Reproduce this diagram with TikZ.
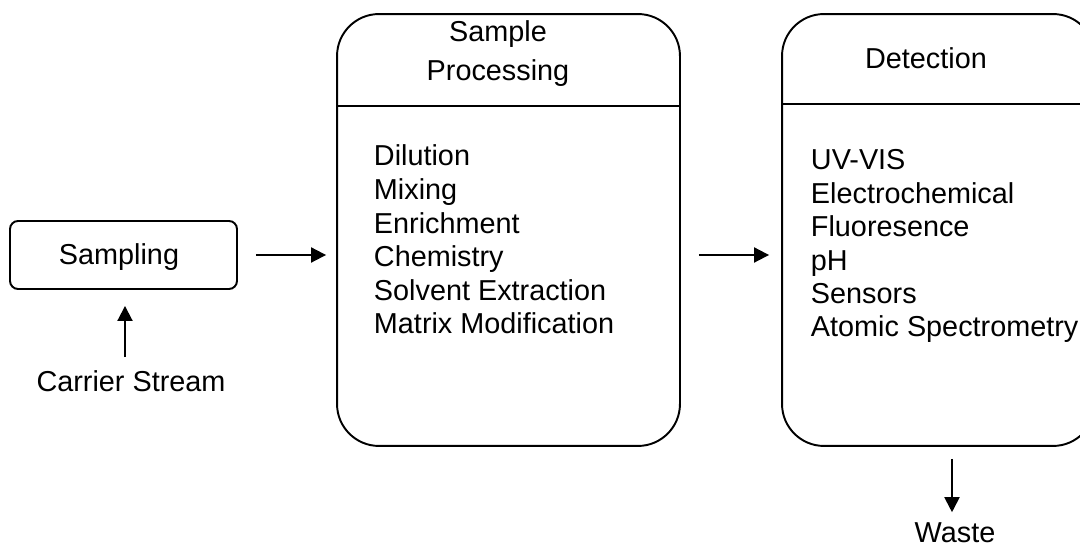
\documentclass[tikz,border=0pt]{standalone}
\usepackage{fontspec}
\setmainfont{Liberation Sans}
\usetikzlibrary{arrows.meta}

\begin{document}
\begin{tikzpicture}[
  x=0.02cm,y=-0.02cm,
  >={Triangle[length=0.3cm,width=0.3cm]},
  every node/.style={font=\fontsize{16.4pt}{18.7pt}\selectfont},
  smallbox/.style={draw,rounded corners=0.16cm,minimum width=4.54cm,minimum height=1.36cm,inner sep=0pt},
  stage/.style={draw,rounded corners=0.84cm,minimum height=8.64cm,inner sep=0pt},
  item/.style={anchor=base west,inner sep=0pt},
  every path/.style={line width=1.1pt}]
\useasboundingbox (0,0) rectangle (1080,547);
\node[smallbox] (sampling) at (123.5,255) {};
\node[anchor=base,inner sep=0pt] (samplingtxt) at (119,265) {Sampling};
\node[anchor=base,inner sep=0pt] (carrier) at (131,392) {Carrier Stream};
\node[stage,minimum width=6.86cm] (proc) at (508.5,230) {};
\node[stage,minimum width=6.26cm] (detect) at (938.5,230) {};
\node[align=center,inner sep=0pt,
  font=\fontsize{16.4pt}{22.2pt}\selectfont] (proctitle) at (498,54) {Sample\\Processing};
\node[anchor=base,inner sep=0pt] (detecttitle) at (926,69) {Detection};
\draw (proc.west |- 0,106) -- (proc.east |- 0,106);
\draw (detect.west |- 0,104) -- (detect.east |- 0,104);
\foreach \txt [count=\i] in {Dilution,Mixing,Enrichment,Chemistry,Solvent Extraction,Matrix Modification}
  \node[item] (p\i) at (373,{166+33.6*(\i-1)}) {\txt};
\foreach \txt [count=\i] in {UV-VIS,Electrochemical,Fluoresence,pH,Sensors,Atomic Spectrometry}
  \node[item] (d\i) at (810,{170+33.4*(\i-1)}) {\txt};
\node[anchor=base,inner sep=0pt] (waste) at (955,543) {Waste};
\draw[->,shorten <=0.36cm,shorten >=0.2cm] (sampling) -- (sampling -| proc.west);
\draw[->,shorten <=0.36cm,shorten >=0.24cm] (proc.east |- sampling) -- (detect.west |- sampling);
\draw[->,shorten <=0.26cm,shorten >=0.32cm] ([xshift=0.03cm]sampling.south |- carrier.north) -- ([xshift=0.03cm]sampling.south);
\draw[->,shorten <=0.24cm,shorten >=0.2cm] ([xshift=-0.06cm]waste.north |- detect.south) -- ([xshift=-0.06cm]waste.north);
\end{tikzpicture}
\end{document}
